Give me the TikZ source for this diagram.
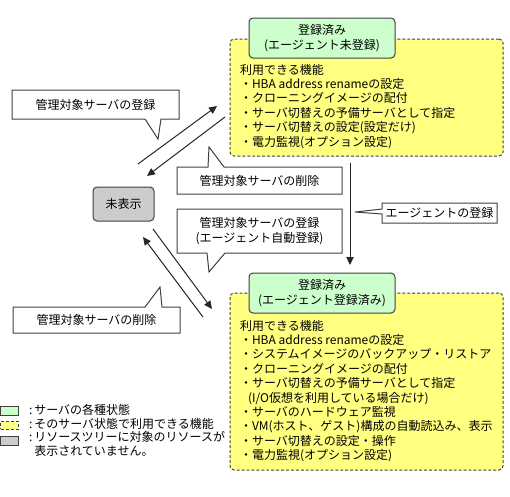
\documentclass[tikz,border=0pt]{standalone}
\usepackage{fontspec}
\setmainfont{Noto Sans CJK JP}
\usetikzlibrary{arrows.meta}
\definecolor{ylw}{RGB}{255,255,128}
\definecolor{grn}{RGB}{204,255,204}
\definecolor{gry}{RGB}{204,204,204}
\definecolor{edge}{RGB}{64,64,64}
\begin{document}
\begin{tikzpicture}[x=0.75pt,y=-0.75pt,
  font=\fontsize{9pt}{10.8pt}\selectfont,
  every node/.style={inner sep=0pt, outer sep=0pt},
  statebox/.style={draw=edge, line width=0.75pt, fill=grn, rounded corners=3pt, align=center},
  featbox/.style={draw=edge, line width=0.75pt, fill=ylw, rounded corners=3pt, dash pattern=on 2.2pt off 1.5pt},
  hiddenbox/.style={draw=edge, line width=0.75pt, fill=gry, rounded corners=3pt},
  calltext/.style={align=center},
  cline/.style={draw=edge, line width=0.75pt},
  flow/.style={draw=black!85, line width=0.75pt, -{Triangle[length=6pt,width=5.5pt]}},
  list/.style={align=left, anchor=north west}
]
\useasboundingbox (0,0) rectangle (510,496);

% ---------- top state ----------
\node[featbox, minimum width=204.75pt, minimum height=87.75pt] (f1) at (366.5,97.5) {};
\node[statebox, minimum width=109.5pt, minimum height=30pt] (s1) at (322,38) {登録済み\\(エージェント未登録)};
\node[list] (l1) at (240,64) {利用できる機能\\
・HBA address renameの設定\\
・クローニングイメージの配付\\
・サーバ切替えの予備サーバとして指定\\
・サーバ切替えの設定(設定だけ)\\
・電力監視(オプション設定)};

% ---------- bottom state ----------
\node[featbox, minimum width=204.75pt, minimum height=132.75pt] (f2) at (366.5,381.5) {};
\node[statebox, minimum width=109.5pt, minimum height=30pt] (s2) at (322,293) {登録済み\\(エージェント登録済み)};
\node[list] (l2) at (240,320) {利用できる機能\\
・HBA address renameの設定\\
・システムイメージのバックアップ・リストア\\
・クローニングイメージの配付\\
・サーバ切替えの予備サーバとして指定\\
\hspace{6pt}(I/O仮想を利用している場合だけ)\\
・サーバのハードウェア監視\\
・VM(ホスト、ゲスト)構成の自動読込み、表示\\
・サーバ切替えの設定・操作\\
・電力監視(オプション設定)};

% ---------- hidden ----------
\node[hiddenbox, minimum width=45.75pt, minimum height=25.5pt] (h) at (123.5,204) {未表示};

% ---------- callouts ----------
\node[calltext, minimum width=125.25pt, minimum height=21.75pt] (c1) at (95.5,104.5) {管理対象サーバの登録};
\draw[cline] (c1.north west) -- (c1.north east) -- (c1.south east) -- (161,119) -- (158,139) -- (145,119) -- (c1.south west) -- cycle;

\node[calltext, minimum width=123.75pt, minimum height=20.25pt] (c2) at (259.5,180.5) {管理対象サーバの削除};
\draw[cline] (c2.north west) -- (208,167) -- (209,147) -- (224,167) -- (c2.north east) -- (c2.south east) -- (c2.south west) -- cycle;

\node[calltext, minimum width=123.75pt, minimum height=33pt] (c3) at (259.5,231) {管理対象サーバの登録\\(エージェント自動登録)};
\draw[cline] (c3.north west) -- (c3.north east) -- (c3.south east) -- (225,253) -- (209,272) -- (207,253) -- (c3.south west) -- cycle;

\node[calltext, minimum width=86.25pt, minimum height=15pt] (c4) at (439.5,213) {エージェントの登録};
\draw[cline] (c4.north west) -- (c4.north east) -- (c4.south east) -- (c4.south west) -- (382,214) -- (355,212) -- (382,209) -- cycle;

\node[calltext, minimum width=125.25pt, minimum height=19.5pt] (c5) at (96.5,320) {管理対象サーバの削除};
\draw[cline] (c5.north west) -- (145,307) -- (160,287) -- (162,307) -- (c5.north east) -- (c5.south east) -- (c5.south west) -- cycle;

% ---------- connectors ----------
\coordinate (a1s) at (138,164); \coordinate (a1e) at (217,106);
\coordinate (a2s) at (225,117); \coordinate (a2e) at (147,176);
\coordinate (a3s) at (153,229); \coordinate (a3e) at (212,309);
\coordinate (a4s) at (203,317); \coordinate (a4e) at (143,237);
\coordinate (a5s) at (350,163); \coordinate (a5e) at (350,265);
\draw[flow] (a1s) -- (a1e);
\draw[flow] (a2s) -- (a2e);
\draw[flow] (a3s) -- (a3e);
\draw[flow] (a4s) -- (a4e);
\draw[flow] (a5s) -- (a5e);

% ---------- legend ----------
\node[draw=edge, line width=0.75pt, fill=grn, minimum width=13pt, minimum height=6.75pt] (k1) at (9.5,410.5) {};
\node[draw=edge, line width=0.75pt, fill=ylw, dash pattern=on 2.2pt off 1.5pt, minimum width=13pt, minimum height=6pt] (k2) at (9.5,425) {};
\node[draw=edge, line width=0.75pt, fill=gry, minimum width=13pt, minimum height=6.75pt] (k3) at (9.5,440.5) {};
\node[anchor=west] (t1) at (29,410) {:\,サーバの各種状態};
\node[anchor=west] (t2) at (29,424) {:\,そのサーバ状態で利用できる機能};
\node[anchor=north west, align=left] (t3) at (29,431) {:\,リソースツリーに対象のリソースが\\\hphantom{:\,}表示されていません。};
\end{tikzpicture}
\end{document}
